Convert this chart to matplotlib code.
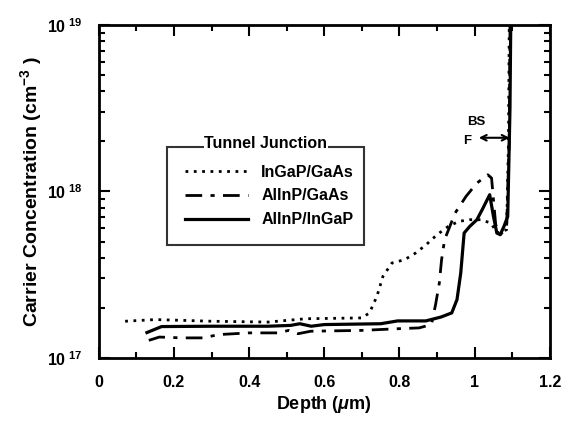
import numpy as np
import matplotlib as mpl
mpl.use("Agg")
import matplotlib.pyplot as plt
from matplotlib.ticker import FixedLocator, FuncFormatter, MultipleLocator

plt.rcParams['font.family'] = ['Liberation Sans', 'DejaVu Sans']
plt.rcParams['font.weight'] = 'bold'
plt.rcParams['mathtext.fontset'] = 'custom'
plt.rcParams['mathtext.rm'] = 'Liberation Sans:bold'
plt.rcParams['mathtext.bf'] = 'Liberation Sans:bold'
plt.rcParams['mathtext.it'] = 'Liberation Sans:bold:italic'

# depth in um, concentration as log10(cm^-3)
ingap_x = [0.07, 0.15, 0.3, 0.45, 0.55, 0.7, 0.72, 0.74, 0.756, 0.78, 0.814,
           0.843, 0.871, 0.9, 0.93, 0.958, 0.987, 1.016, 1.043, 1.06, 1.085,
           1.09, 1.092]
ingap_log = [17.22, 17.23, 17.22, 17.215, 17.235, 17.24, 17.27, 17.37, 17.49,
             17.57, 17.59, 17.63, 17.68, 17.74, 17.79, 17.82, 17.83, 17.83,
             17.81, 17.75, 17.77, 18.3, 19.0]

alinp_gaas_x = [0.133, 0.161, 0.22, 0.276, 0.32, 0.4, 0.478, 0.505, 0.53,
                0.564, 0.7, 0.795, 0.852, 0.885, 0.896, 0.906, 0.912, 0.92,
                0.948, 0.977, 1.006, 1.035, 1.045, 1.05, 1.056, 1.068, 1.085,
                1.092, 1.094]
alinp_gaas_log = [17.105, 17.125, 17.12, 17.12, 17.14, 17.15, 17.15, 17.165,
                  17.145, 17.16, 17.165, 17.175, 17.18, 17.2, 17.32, 17.45,
                  17.59, 17.71, 17.87, 17.97, 18.05, 18.10, 18.08, 17.95, 17.8,
                  17.74, 17.78, 18.3, 19.0]

alinp_ingap_x = [0.128, 0.167, 0.3, 0.45, 0.51, 0.535, 0.565, 0.6, 0.75,
                 0.795, 0.87, 0.91, 0.939, 0.953, 0.963, 0.972, 0.987, 1.006,
                 1.02, 1.04, 1.05, 1.059, 1.068, 1.078, 1.088, 1.094, 1.096]
alinp_ingap_log = [17.152, 17.188, 17.19, 17.19, 17.195, 17.205, 17.19, 17.2,
                   17.205, 17.222, 17.222, 17.245, 17.27, 17.35, 17.51, 17.75,
                   17.79, 17.83, 17.89, 17.98, 17.85, 17.75, 17.74, 17.79,
                   17.85, 18.5, 19.0]

labels = ["InGaP/GaAs", "AlInP/GaAs", "AlInP/InGaP"]
bsf_span = [1.011, 1.093]   # BSF arrow, um
bsf_level = 2.1e18

fig = plt.figure(figsize=(5.68, 4.23), dpi=100)
ax = fig.add_axes([0.174, 0.154, 0.794, 0.787])

ax.plot(ingap_x, 10**np.array(ingap_log), color='black', lw=2,
        ls=(0, (1, 2)), label=labels[0])
ax.plot(alinp_gaas_x, 10**np.array(alinp_gaas_log), color='black', lw=2,
        ls=(0, (6, 3, 1.5, 3)), label=labels[1])
ax.plot(alinp_ingap_x, 10**np.array(alinp_ingap_log), color='black', lw=2.3,
        ls='-', label=labels[2])

# BSF arrow
ax.annotate("", xy=(bsf_span[0], bsf_level), xytext=(bsf_span[1], bsf_level),
            arrowprops=dict(arrowstyle='<->', color='black', lw=1.5,
                            shrinkA=0, shrinkB=0))
ax.text(1.003, 2.6e18, "BS", fontsize=9.5, ha='center', va='center')
ax.text(0.99, 2.0e18, "F", fontsize=9.5, ha='right', va='center')

ax.set_yscale('log')
ax.set_xlim(0, 1.2)
ax.set_ylim(1e17, 1e19)

ax.xaxis.set_major_locator(MultipleLocator(0.2))
ax.xaxis.set_minor_locator(MultipleLocator(0.1))
ax.xaxis.set_major_formatter(FuncFormatter(lambda v, p: f"{v:g}"))
ax.yaxis.set_major_locator(FixedLocator([1e17, 1e18, 1e19]))
ax.yaxis.set_major_formatter(
    FuncFormatter(lambda v, p: r"10$^{\ %d}$" % round(np.log10(v))))

ax.tick_params(which='both', direction='in', top=True, right=True,
               labelsize=11.5, width=1.5)
ax.tick_params(which='major', length=8, pad=12)
ax.tick_params(which='minor', length=4)
for s in ax.spines.values():
    s.set_linewidth(2)

ax.set_xlabel(r"Depth ($\mathit{\mu}$m)", fontsize=13, fontweight='bold',
              labelpad=3)
ax.set_ylabel(r"Carrier Concentration (cm$^{-3}$ )", fontsize=14,
              fontweight='bold', labelpad=2)

leg = ax.legend(loc='lower left', bbox_to_anchor=(0.151, 0.34, 0.437, 0.3),
                mode='expand', frameon=True, fancybox=False, fontsize=11.5,
                handlelength=4.0, borderpad=1.1, labelspacing=0.55,
                borderaxespad=0, markerfirst=True)
leg.get_frame().set_edgecolor('black')
leg.get_frame().set_linewidth(1.5)
for t in leg.get_texts():
    t.set_fontweight('bold')
ax.text(0.37, 0.643, "Tunnel Junction", transform=ax.transAxes, fontsize=11.5,
        ha='center', va='center', zorder=10,
        bbox=dict(facecolor='white', edgecolor='none', pad=0.5))

fig.savefig("out.png", dpi=100)
